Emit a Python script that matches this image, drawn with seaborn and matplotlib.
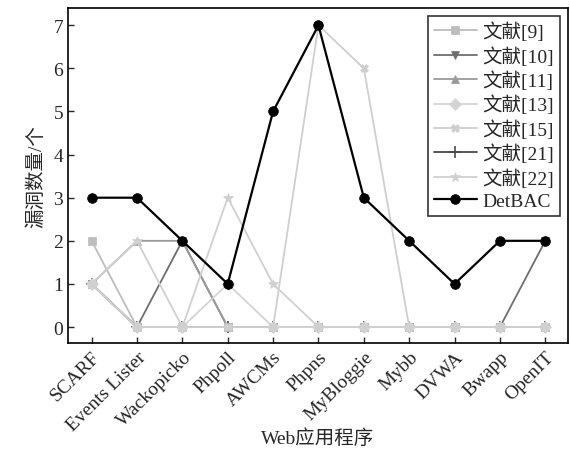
import pandas as pd
import matplotlib
matplotlib.use("Agg")
import matplotlib.pyplot as plt
import seaborn as sns

# data
apps = ["SCARF", "Events Lister", "Wackopicko", "Phpoll", "AWCMs", "Phpns",
        "MyBloggie", "Mybb", "DVWA", "Bwapp", "OpenIT"]
ref9 = [2, 0, 0, 0, 0, 0, 0, 0, 0, 0, 0]
ref10 = [1, 0, 2, 0, 0, 0, 0, 0, 0, 0, 2]
ref11 = [1, 2, 2, 0, 0, 0, 0, 0, 0, 0, 0]
ref13 = [1, 0, 0, 1, 0, 0, 0, 0, 0, 0, 0]
ref15 = [1, 0, 0, 0, 0, 7, 6, 0, 0, 0, 0]
ref21 = [1, 0, 0, 0, 0, 0, 0, 0, 0, 0, 0]
ref22 = [1, 2, 0, 3, 1, 0, 0, 0, 0, 0, 0]
detbac = [3, 3, 2, 1, 5, 7, 3, 2, 1, 2, 2]

# name, values, colour, marker, size, zorder
series = [
    ("文献[9]", ref9, "#bdbdbd", "s", 6, 5),
    ("文献[10]", ref10, "#6e6e6e", "v", 6, 3),
    ("文献[11]", ref11, "#9a9a9a", "^", 6, 4),
    ("文献[13]", ref13, "#d4d4d4", "D", 6, 6),
    ("文献[15]", ref15, "#cfcfcf", "X", 6, 7),
    ("文献[21]", ref21, "#4a4a4a", "+", 8, 2),
    ("文献[22]", ref22, "#d0d0d0", "*", 7, 8),
    ("DetBAC", detbac, "black", "o", 7, 10),
]

sns.set_style("ticks")
plt.rcParams['font.family'] = ['Liberation Serif', 'Noto Sans CJK SC']
plt.rcParams['axes.linewidth'] = 1.2

fig = plt.figure(figsize=(5.7, 4.52), dpi=100)
ax = fig.add_axes([68 / 570, 1 - 344 / 452, 500 / 570, 335 / 452])

for name, vals, color, marker, ms, z in series:
    df = pd.DataFrame({"app": apps, "count": vals})
    sns.lineplot(data=df, x="app", y="count", ax=ax, color=color, marker=marker,
                 markersize=ms, markeredgecolor=color,
                 markeredgewidth=1.2 if marker == "+" else 0.5,
                 linewidth=1.6 if name == "DetBAC" else 1.3, label=name, zorder=z, sort=False)

ax.set_xlim(-0.52, 10.5)
ax.set_ylim(-0.37, 7.4)
ax.set_yticks(range(0, 8))
ax.tick_params(direction="in", length=4, width=1, labelsize=14)
ax.set_xticks(range(len(apps)))
ax.set_xticklabels(apps, rotation=45, ha="right", rotation_mode="anchor", fontsize=14)
ax.set_xlabel("Web应用程序", fontsize=14, va="center")
ax.xaxis.set_label_coords(0.5, (344 - 439) / 335)
ax.set_ylabel("漏洞数量/个", fontsize=14, labelpad=6)
for s in ax.spines.values():
    s.set_visible(True)
    s.set_color("black")

leg = ax.legend(loc="upper right", fontsize=14, handlelength=2.2, frameon=True,
                fancybox=False, edgecolor="black", borderpad=0.3, labelspacing=0.25,
                handletextpad=0.3, borderaxespad=0.4)
leg.get_frame().set_linewidth(1.2)

fig.savefig("out.png", dpi=100)
